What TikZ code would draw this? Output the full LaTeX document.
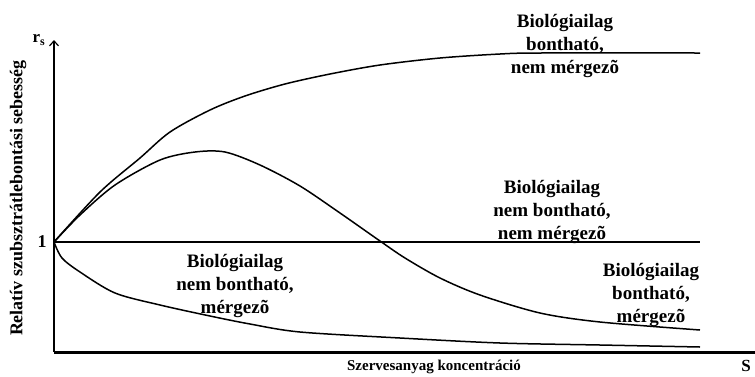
\documentclass[tikz,border=0pt]{standalone}
\usepackage{fontspec}
\setmainfont{Liberation Serif}
\usetikzlibrary{arrows.meta}
\begin{document}
\begin{tikzpicture}[x=1pt,y=-1pt,
  curve/.style={line width=1.5pt,line join=round},
  lbl/.style={font=\bfseries\fontsize{19}{23}\selectfont,align=center,inner sep=0pt},
  axlbl/.style={font=\bfseries\fontsize{15}{17}\selectfont,inner sep=0pt}]
\useasboundingbox (0,0) rectangle (755,376);
\coordinate (O) at (54,352);
\coordinate (Ytop) at (54,40);
\coordinate (Xend) at (755,352);
\coordinate (P1) at (54,242);
\coordinate (E1) at (700,242);
\draw[line width=1.2pt,-{Straight Barb[length=5pt,width=9pt]}] (O) -- (Ytop);
\draw[line width=3pt] (O) -- (Xend);
% curves
\draw[curve] (P1) -- (P1 -| E1);
\draw[curve] plot[smooth,tension=0.5] coordinates {(54,242) (100,192) (140,158) (170,132) (210,110) (245,96) (285,84) (330,74) (380,65) (440,58) (500,54) (540,53) (700,53)};
\draw[curve] plot[smooth,tension=0.5] coordinates {(54,242) (80,215) (115,185) (160,160) (195,152) (225,152) (260,165) (300,186) (340,213) (380,241) (405,258) (440,278) (480,295) (540,313) (600,322) (700,330)};
\draw[curve] plot[smooth,tension=0.5] coordinates {(54,242) (62,258) (80,272) (115,293) (160,305) (210,316) (250,324) (300,332) (400,338) (500,343) (600,345) (700,347)};
% labels
\node[axlbl,font=\bfseries\fontsize{18}{18}\selectfont] (one) at (42,242) {1};
\node[axlbl,font=\bfseries\fontsize{17}{17}\selectfont] (rs) at (39,40) {r\textsubscript{s}};
\node[axlbl,font=\bfseries\fontsize{18}{18}\selectfont,rotate=90] (ylab) at (18,198) {Relatív szubsztrátlebontási sebesség};
\node[axlbl] (xlab) at (434,367) {Szervesanyag koncentráció};
\node[axlbl,font=\bfseries\fontsize{17}{17}\selectfont] (S) at (746,366) {S};
\node[lbl] (L1) at (565,46) {Biológiailag\\bontható,\\nem mérgezõ};
\node[lbl] (L2) at (552,212) {Biológiailag\\nem bontható,\\nem mérgezõ};
\node[lbl] (L3) at (235,286) {Biológiailag\\nem bontható,\\mérgezõ};
\node[lbl] (L4) at (651,295) {Biológiailag\\bontható,\\mérgezõ};
\end{tikzpicture}
\end{document}
